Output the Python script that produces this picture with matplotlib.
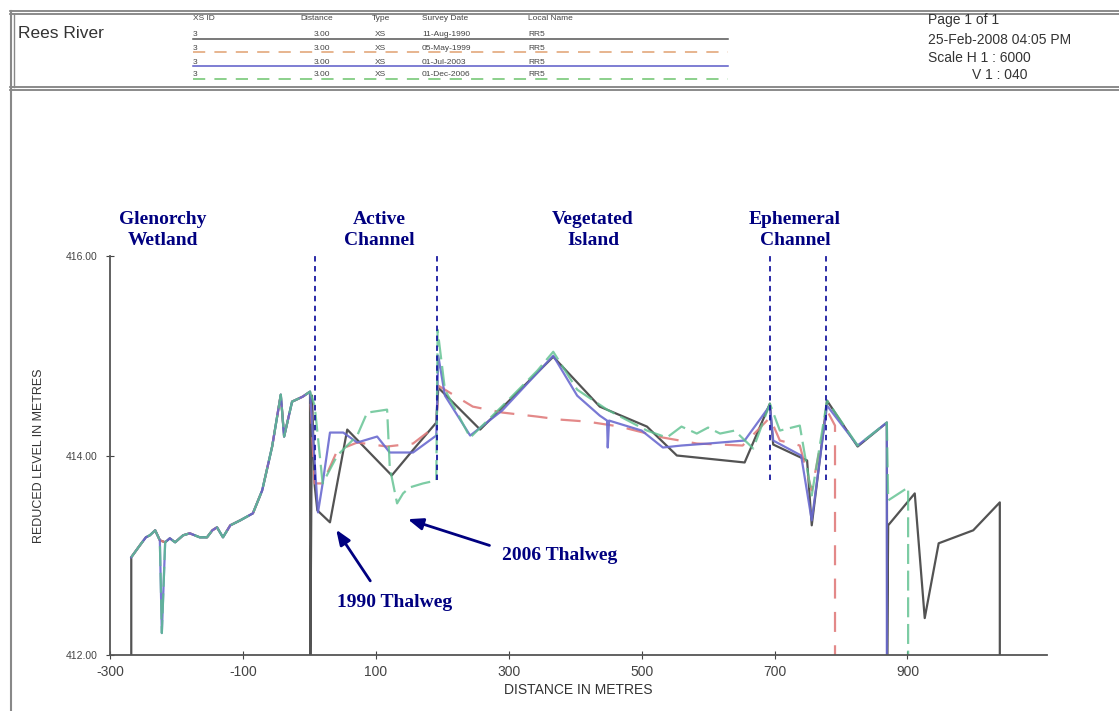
import numpy as np
import matplotlib.pyplot as plt
from matplotlib.lines import Line2D

# shared wetland profile (distance m, level m)
left_d = [-268, -268, -255, -246, -240, -232, -225, -217, -210, -202, -190, -180, -165,
          -154, -146, -139, -130, -119, -104, -85, -71, -56, -43, -38, -26, -10, 1]
left_z = [412.00, 412.98, 413.10, 413.18, 413.20, 413.25, 413.15, 413.13, 413.17, 413.13,
          413.20, 413.22, 413.18, 413.18, 413.25, 413.28, 413.18, 413.30, 413.35, 413.42,
          413.65, 414.09, 414.61, 414.19, 414.54, 414.59, 414.64]
dip_d, dip_z = -222, 412.22   # drain spike seen in 2003/2006 surveys

black_d = [1.5, 4, 8, 12, 31, 57, 124, 154, 191, 194, 257, 367, 437, 508, 553, 655, 693,
           698, 749, 756, 779, 825, 869, 869.5, 871, 911, 926, 947, 999, 1039, 1039]
black_z = [412.00, 414.60, 413.70, 413.45, 413.33, 414.26, 413.80, 414.04, 414.33, 414.68,
           414.26, 414.99, 414.49, 414.29, 414.00, 413.93, 414.52, 414.11, 413.95, 413.30,
           414.55, 414.09, 414.33, 412.00, 413.30, 413.62, 412.37, 413.12, 413.25, 413.53,
           412.00]

red_d = [8, 20, 42, 72, 117, 156, 191, 194, 246, 291, 343, 377, 418, 467, 532, 583, 652,
         693, 708, 738, 756, 779, 791, 791]
red_z = [413.72, 413.72, 414.05, 414.13, 414.09, 414.12, 414.30, 414.70, 414.49, 414.43,
         414.39, 414.36, 414.34, 414.29, 414.18, 414.12, 414.10, 414.38, 414.15, 414.10,
         413.65, 414.45, 414.30, 412.00]

blue_d = [13, 20, 31, 51, 72, 102, 121, 156, 191, 194, 204, 242, 290, 367, 403, 437, 448,
          449, 451, 500, 532, 560, 600, 655, 693, 698, 740, 756, 779, 825, 869, 869]
blue_z = [413.43, 413.72, 414.23, 414.23, 414.13, 414.19, 414.03, 414.03, 414.20, 415.00,
          414.60, 414.20, 414.45, 415.00, 414.60, 414.40, 414.35, 414.08, 414.35, 414.25,
          414.08, 414.10, 414.12, 414.15, 414.50, 414.15, 414.00, 413.35, 414.50, 414.10,
          414.33, 412.00]

green_d = [8, 20, 42, 72, 87, 117, 121, 132, 141, 151, 171, 191, 193, 204, 242, 291, 343,
           367, 403, 448, 508, 538, 560, 583, 600, 618, 640, 668, 693, 708, 738, 756, 779,
           825, 869, 871, 901, 901]
green_z = [414.50, 413.72, 414.00, 414.20, 414.43, 414.46, 413.88, 413.52, 413.62, 413.68,
           413.72, 413.75, 415.26, 414.66, 414.18, 414.50, 414.85, 415.04, 414.66, 414.46,
           414.25, 414.18, 414.29, 414.22, 414.28, 414.22, 414.25, 414.07, 414.52, 414.25,
           414.30, 413.60, 414.55, 414.10, 414.33, 413.55, 413.68, 412.00]

dividers = [8, 192, 693, 777]
zones = ['Glenorchy\nWetland', 'Active\nChannel', 'Vegetated\nIsland', 'Ephemeral\nChannel']
zone_x = [-220, 106, 427, 731]

xs_ids = ['3', '3', '3', '3']
distances = ['3.00', '3.00', '3.00', '3.00']
types = ['XS', 'XS', 'XS', 'XS']
dates = ['11-Aug-1990', '05-May-1999', '01-Jul-2003', '01-Dec-2006']
local_names = ['RR5', 'RR5', 'RR5', 'RR5']
line_colors = ['#555555', '#e0a070', '#5a5ac8', '#6cc46c']
line_styles = ['-', (0, (8, 6)), '-', (0, (8, 6))]

W, H = 1119, 711


def fx(x):
    return x / W


def fy(y):
    return 1 - y / H


def with_left(d, z, dip=False, ground=True):
    ld, lz = list(left_d), list(left_z)
    if dip:
        i = ld.index(-217)
        ld.insert(i, dip_d)
        lz.insert(i, dip_z)
    if not ground:
        ld, lz = ld[1:], lz[1:]
    return np.array(ld + d), np.array(lz + z)


plt.rcParams['font.family'] = ['Liberation Sans', 'DejaVu Sans']
plt.rcParams['axes.unicode_minus'] = False
fig = plt.figure(figsize=(W / 100, H / 100), dpi=100)
ax = fig.add_axes([fx(110), fy(655), fx(1047) - fx(110), fy(256) - fy(655)])

series = [(black_d, black_z, False, True, '#4a4a4a', '-', 0.95),
          (red_d, red_z, False, False, '#e07c7c', (0, (9, 6)), 0.9),
          (blue_d, blue_z, True, False, '#6a6ad0', '-', 0.9),
          (green_d, green_z, True, False, '#5cc08e', (0, (9, 3)), 0.8)]
for d, z, dip, ground, c, ls, a in series:
    xd, yz = with_left(d, z, dip, ground)
    ax.plot(xd, yz, color=c, ls=ls, lw=1.6, alpha=a)

ax.vlines(dividers, 413.75, 416.06, colors='#1a1aa0', linestyles=(0, (3, 2.5)), lw=1.3)

ax.set_xlim(-300, 1110)
ax.set_ylim(412, 416)
ax.set_xticks([-300, -100, 100, 300, 500, 700, 900])
ax.set_yticks([412, 414, 416])
ax.set_yticklabels(['412.00', '414.00', '416.00'])
ax.tick_params(axis='x', direction='inout', length=6, labelsize=10, colors='#444444', pad=4)
ax.tick_params(axis='y', direction='inout', length=6, labelsize=7.5, colors='#444444', pad=6)
for s in ['top', 'right']:
    ax.spines[s].set_visible(False)
for s in ['left', 'bottom']:
    ax.spines[s].set_color('#555555')
    ax.spines[s].set_linewidth(1.3)
ax.set_xlabel('DISTANCE IN METRES', fontsize=10, color='#333333', labelpad=3)
ax.set_ylabel('REDUCED LEVEL IN METRES', fontsize=9, color='#333333', labelpad=15)

serif = dict(family=['Liberation Serif', 'DejaVu Serif'], fontweight='bold', color='#000080')
for name, x in zip(zones, zone_x):
    ax.text(x, 416.26, name, ha='center', va='center', fontsize=14, linespacing=1.25,
            clip_on=False, **serif)

arrow = dict(arrowstyle='-|>,head_length=0.9,head_width=0.35', color='#000080', lw=2)
ax.annotate('', xy=(38, 413.28), xytext=(94, 412.72), arrowprops=arrow)
ax.annotate('', xy=(144, 413.37), xytext=(275, 413.09), arrowprops=arrow)
ax.text(129, 412.53, '1990 Thalweg', ha='center', va='center', fontsize=14, **serif)
ax.text(377, 413.0, '2006 Thalweg', ha='center', va='center', fontsize=14, **serif)

# header box
for y in [11, 14, 87, 90]:
    fig.add_artist(Line2D([fx(10), 1], [fy(y), fy(y)], color='#777777', lw=1.2))
fig.add_artist(Line2D([fx(11), fx(11)], [fy(11), 0], color='#888888', lw=1.5))
fig.add_artist(Line2D([fx(14), fx(14)], [fy(14), fy(87)], color='#888888', lw=1))

fig.text(fx(18), fy(33), 'Rees River', fontsize=12.5, color='#333333', va='center')
small = dict(fontsize=6, color='#444444', va='center')
fig.text(fx(193), fy(19), 'XS ID', **small)
fig.text(fx(300), fy(19), 'Distance', **small)
fig.text(fx(372), fy(19), 'Type', **small)
fig.text(fx(422), fy(19), 'Survey Date', **small)
fig.text(fx(528), fy(19), 'Local Name', **small)
row_y = [35, 48, 62, 75]
for i in range(4):
    y = row_y[i]
    fig.text(fx(193), fy(y), xs_ids[i], **small)
    fig.text(fx(322), fy(y), distances[i], ha='center', **small)
    fig.text(fx(375), fy(y), types[i], **small)
    fig.text(fx(422), fy(y), dates[i], **small)
    fig.text(fx(528), fy(y), local_names[i], **small)
    fig.add_artist(Line2D([fx(193), fx(728)], [fy(y + 4), fy(y + 4)], color=line_colors[i],
                          ls=line_styles[i], lw=1.1))

right = dict(fontsize=10, color='#333333', va='center')
fig.text(fx(928), fy(20), 'Page 1 of 1', **right)
fig.text(fx(928), fy(40), '25-Feb-2008 04:05 PM', **right)
fig.text(fx(928), fy(58), 'Scale H 1 : 6000', **right)
fig.text(fx(972), fy(75), 'V 1 : 040', **right)

fig.savefig('out.png', dpi=100)
